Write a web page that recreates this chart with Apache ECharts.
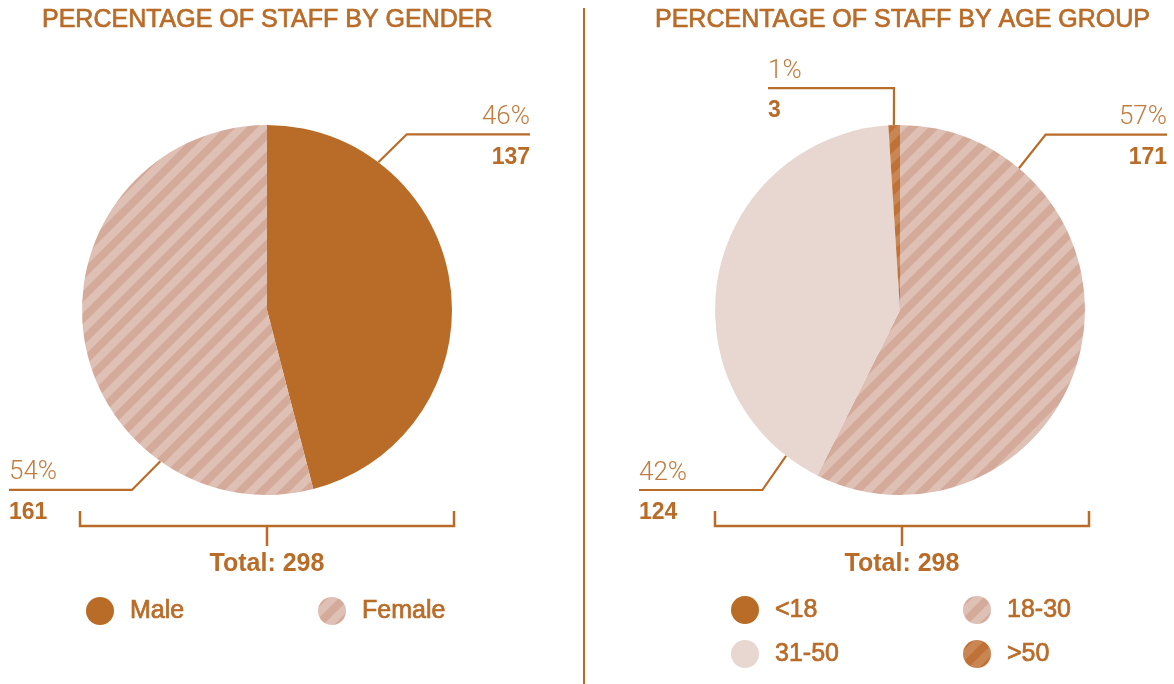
<!DOCTYPE html>
<html><head><meta charset="utf-8">
<script src="https://cdn.jsdelivr.net/npm/echarts@6/dist/echarts.min.js"></script>
<style>html,body{margin:0;padding:0;background:#fff}#c{width:1174px;height:684px}</style>
</head><body><div id="c"></div>
<script>
// ---- data ----
const genderCategories = ['Male', 'Female'];
const genderValues = [137, 161];
const ageCategories = ['<18', '18-30', '31-50', '>50'];
const ageValues = [0, 171, 124, 3];
const chartTitles = ['PERCENTAGE OF STAFF BY GENDER', 'PERCENTAGE OF STAFF BY AGE GROUP'];
const totalLabel = 'Total: ';

// ---- styles / layout ----
const ORANGE = '#B96B28';
const PCT_COLOR = '#C27B3E';
const FONT = "'Liberation Sans', Arial, Helvetica, sans-serif";
const R = 185;
const centers = [[267, 310], [900, 310]];

function stripes(light, dark) {
  const S = 22;
  const c = document.createElement('canvas');
  c.width = S; c.height = S;
  const g = c.getContext('2d');
  g.fillStyle = light; g.fillRect(0, 0, S, S);
  g.fillStyle = dark;
  for (let k = 0; k <= 2; k++) {
    const c1 = k * S, c2 = k * S + S / 2;
    g.beginPath(); g.moveTo(c1, 0); g.lineTo(c2, 0); g.lineTo(c2 - S, S); g.lineTo(c1 - S, S); g.closePath(); g.fill();
  }
  return { image: c, repeat: 'repeat' };
}
const genderColors = [ORANGE, stripes('#DFC0B5', '#D4AA9B')];
const ageColors = [ORANGE, stripes('#DFC0B5', '#D4AA9B'), '#E8D7D0', stripes('#C98653', '#BF7136')];

// label anchors: [edgeAngle, elbowAngle, elbowRadius, endX, side]
const labelAnchors = [
  { 0: [37, 38.5, 224.5, 530, 'right'], 1: [215.2, 216.9, 225, 9, 'left'] },
  { 1: [40, 39.7, 228, 1167, 'right'], 2: [218, 217.4, 226.6, 639, 'left'], 3: [358.1, 358.45, 222, 768, 'left'] }
];

function pt(c, r, a) {
  const t = a * Math.PI / 180;
  return [c[0] + r * Math.sin(t), c[1] - r * Math.cos(t)];
}

function layoutFor(si) {
  return function (params) {
    const an = labelAnchors[si][params.dataIndex];
    if (!an) return {};
    const c = centers[si];
    const e = pt(c, R, an[0]);
    const k = pt(c, an[2], an[1]);
    return {
      x: an[3], y: k[1] - 34, align: an[4], verticalAlign: 'top',
      labelLinePoints: [e, k, [an[3], k[1]]]
    };
  };
}

const rich = {
  p: { fontSize: 26, lineHeight: 34, fontWeight: 300, fontFamily: "Roboto, " + FONT, color: PCT_COLOR },
  v: { fontSize: 23, lineHeight: 46, fontWeight: 'bold', fontFamily: FONT, color: ORANGE }
};

function pieSeries(si, cats, vals, colors) {
  const total = vals.reduce((a, b) => a + b, 0);
  return {
    type: 'pie', center: centers[si], radius: R, startAngle: 90, clockwise: true,
    avoidLabelOverlap: false, silent: true, animation: false,
    emphasis: { disabled: true },
    label: {
      show: true, position: 'outside', alignTo: 'none',
      formatter: p => '{p|' + Math.round(p.value / total * 100) + '%}\n{v|' + p.value + '}',
      rich: rich
    },
    labelLine: { show: true, smooth: false, lineStyle: { color: ORANGE, width: 2.2 } },
    labelLayout: layoutFor(si),
    data: cats.map((n, i) => ({
      name: n, value: vals[i], itemStyle: { color: colors[i] },
      label: { show: vals[i] > 0 }, labelLine: { show: vals[i] > 0 }
    }))
  };
}

const legendBase = {
  icon: 'circle', itemWidth: 28, itemHeight: 28, itemGap: 16, selectedMode: false,
  orient: 'horizontal', padding: 0,
  textStyle: { fontSize: 25, fontFamily: FONT, color: ORANGE, width: 172, lineHeight: 28, padding: [0, 0, 0, 11],
    textBorderColor: ORANGE, textBorderWidth: 0.7 }
};

const titleStyle = { fontSize: 25, fontWeight: 'normal', color: ORANGE, fontFamily: FONT, textBorderColor: ORANGE, textBorderWidth: 0.7 };

const sumG = genderValues.reduce((a, b) => a + b, 0);
const sumA = ageValues.reduce((a, b) => a + b, 0);

function bracket(c) {
  const x1 = c[0] - R - 2, x2 = c[0] + R + 2, yTop = 511, yB = 526;
  return [
    { type: 'polyline', silent: true, shape: { points: [[x1, yTop], [x1, yB], [x2, yB], [x2, yTop]] }, style: { stroke: ORANGE, lineWidth: 2.5, fill: null } },
    { type: 'line', silent: true, shape: { x1: c[0], y1: yB, x2: c[0], y2: 546 }, style: { stroke: ORANGE, lineWidth: 2.5 } }
  ];
}

const chart = echarts.init(document.getElementById('c'), null, { renderer: 'canvas' });
chart.setOption({
  backgroundColor: '#fff',
  animation: false,
  title: [
    { text: chartTitles[0], left: 42, top: 8, padding: 0, textStyle: titleStyle },
    { text: chartTitles[1], left: 655, top: 8, padding: 0, textStyle: titleStyle }
  ],
  legend: [
    Object.assign({}, legendBase, { data: genderCategories, left: 86, top: 597, width: 480 }),
    Object.assign({}, legendBase, { data: ageCategories, left: 731, top: 596, width: 480 })
  ],
  graphic: [
    { type: 'line', silent: true, shape: { x1: 584, y1: 8, x2: 584, y2: 684 }, style: { stroke: ORANGE, lineWidth: 2 } },
    ...bracket([267, 310]),
    ...bracket([902, 310]),
    { type: 'text', silent: true, x: 267, y: 564, style: { text: totalLabel + sumG, align: 'center', verticalAlign: 'middle', font: 'bold 25px ' + FONT, fill: ORANGE } },
    { type: 'text', silent: true, x: 902, y: 564, style: { text: totalLabel + sumA, align: 'center', verticalAlign: 'middle', font: 'bold 25px ' + FONT, fill: ORANGE } }
  ],
  series: [
    pieSeries(0, genderCategories, genderValues, genderColors),
    pieSeries(1, ageCategories, ageValues, ageColors)
  ]
});
</script>
</body></html>
